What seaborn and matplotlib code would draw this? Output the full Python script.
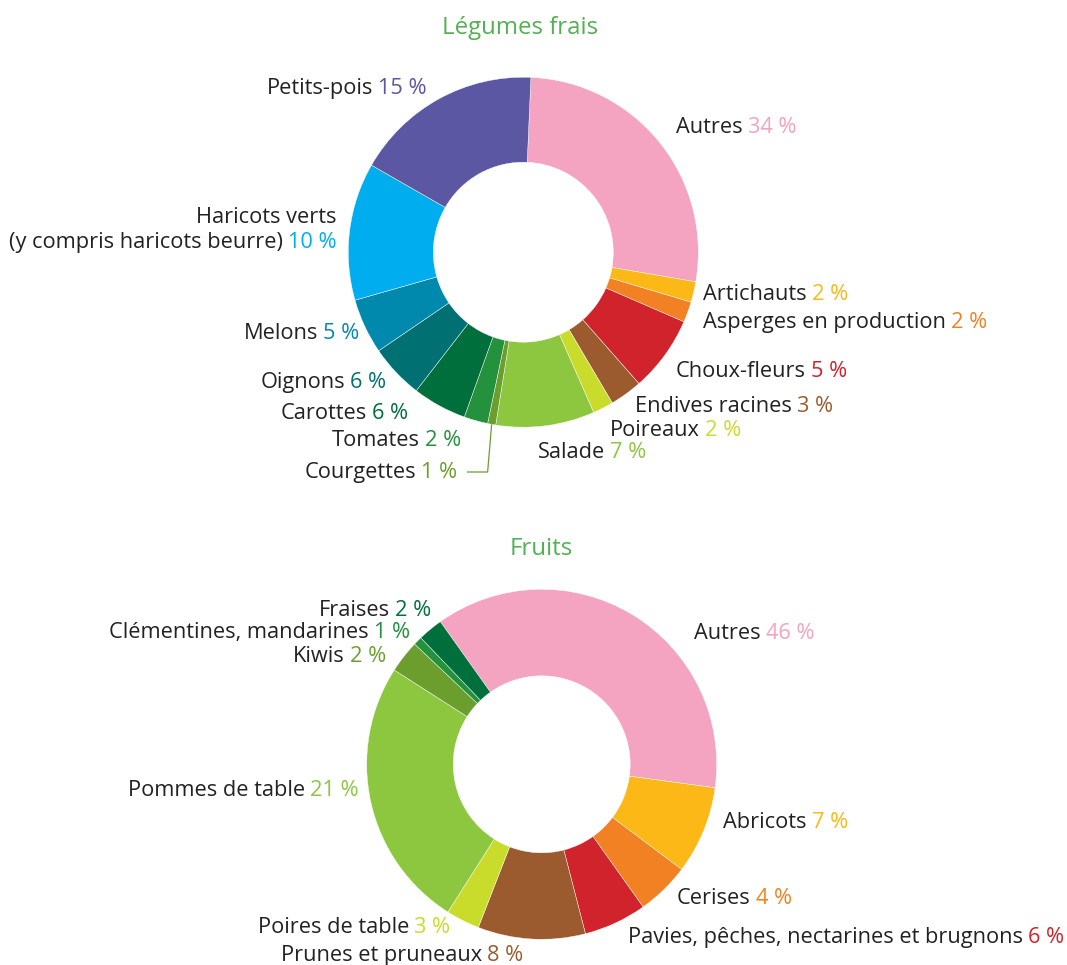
import matplotlib
matplotlib.use("Agg")
import matplotlib.pyplot as plt
import seaborn as sns
import numpy as np

sns.set_theme(style="white")
plt.rcParams['font.family'] = ['Open Sans', 'DejaVu Sans']

W, H = 1067, 965

# ---------------- Data ----------------
veg_names = ["Autres", "Artichauts", "Asperges en production", "Choux-fleurs",
             "Endives racines", "Poireaux", "Salade", "Courgettes", "Tomates",
             "Carottes", "Oignons", "Melons",
             "Haricots verts\n(y compris haricots beurre)", "Petits-pois"]
veg_pct = [34, 2, 2, 5, 3, 2, 7, 1, 2, 6, 6, 5, 10, 15]
veg_share = [27.0, 1.9, 1.9, 7.0, 3.0, 1.9, 9.1, 0.75, 2.2, 5.0, 5.0, 5.1, 12.7, 17.4]

fruit_names = ["Autres", "Abricots", "Cerises",
               "Pavies, pêches, nectarines et brugnons", "Prunes et pruneaux",
               "Poires de table", "Pommes de table", "Kiwis",
               "Clémentines, mandarines", "Fraises"]
fruit_pct = [46, 7, 4, 6, 8, 3, 21, 2, 1, 2]
fruit_share = [36.9, 8.1, 4.9, 5.8, 9.9, 3.1, 25.0, 3.0, 0.8, 2.3]

# ---------------- Styles ----------------
veg_colors = ["#f4a3c0", "#fbb817", "#f28124", "#d1232b", "#9c5b2e", "#c9dc2b",
              "#8dc63f", "#6c9e2e", "#24913c", "#006f3c", "#007073", "#0088ad",
              "#00aeef", "#5b57a2"]
fruit_colors = ["#f4a3c0", "#fbb817", "#f28124", "#d1232b", "#9c5b2e", "#c9dc2b",
                "#8dc63f", "#6c9e2e", "#24913c", "#006f3c"]
veg_pal = sns.color_palette(veg_colors)
fruit_pal = sns.color_palette(fruit_colors)

TEXT = "#222222"
TITLE = "#52b152"
FS = 15.7

# label layout: (x, y_center in px from top, side)
veg_label_pos = [(676, 127, 'l'), (703, 294, 'l'), (703, 322, 'l'), (676, 371, 'l'),
                 (635, 406, 'l'), (610, 430, 'l'), (538, 452, 'l'), (457, 472, 'r'),
                 (461, 440, 'r'), (408, 413, 'r'), (386, 382, 'r'), (359, 333, 'r'),
                 (337, 242, 'r'), (427, 88, 'r')]
fruit_label_pos = [(694, 633, 'l'), (723, 822, 'l'), (677, 898, 'l'), (628, 937, 'l'),
                   (523, 955, 'r'), (450, 927, 'r'), (359, 790, 'r'), (386, 656, 'r'),
                   (410, 632, 'r'), (431, 610, 'r')]

fig = plt.figure(figsize=(W / 100, H / 100), dpi=100)
ax = fig.add_axes([0, 0, 1, 1])


def py(y):
    return H - y


def donut(values, colors, center_px, radius, inner, start_deg):
    wedges, _ = ax.pie(values, colors=colors, center=(center_px[0], py(center_px[1])),
                       radius=radius, startangle=90 - start_deg, counterclock=False,
                       wedgeprops=dict(width=radius - inner, linewidth=0.3,
                                       edgecolor="white"),
                       frame=True)
    return wedges


veg_wedges = donut(veg_share, veg_pal, (523.3, 252.2), 175, 90, 2.5)
fruit_wedges = donut(fruit_share, fruit_pal, (541.7, 764.3), 175, 88.5, 324.6)
ax.set_xlim(0, W)
ax.set_ylim(0, H)
ax.set_aspect('equal')
ax.axis('off')

ax.text(520, py(28), "Légumes frais", ha='center', va='center', color=TITLE, fontsize=17.3)
ax.text(541, py(549), "Fruits", ha='center', va='center', color=TITLE, fontsize=17.3)

fig.canvas.draw()
renderer = fig.canvas.get_renderer()
GAP = 5


def labels(names, pcts, colors, positions):
    for name, p, c, (x, yc, side) in zip(names, pcts, colors, positions):
        lines = name.split("\n")
        yb = py(yc + 6)
        pct = f"{p} %"
        if side == 'l':
            t1 = ax.text(x, yb, lines[-1], ha='left', va='baseline', color=TEXT, fontsize=FS)
            w = t1.get_window_extent(renderer).width
            ax.text(x + w + GAP, yb, pct, ha='left', va='baseline', color=c, fontsize=FS)
        else:
            t2 = ax.text(x, yb, pct, ha='right', va='baseline', color=c, fontsize=FS)
            w = t2.get_window_extent(renderer).width
            ax.text(x - w - GAP, yb, lines[-1], ha='right', va='baseline', color=TEXT, fontsize=FS)
        for k, extra in enumerate(reversed(lines[:-1])):
            ax.text(x, yb + 25 * (k + 1), extra, ha='right' if side == 'r' else 'left',
                    va='baseline', color=TEXT, fontsize=FS)


labels(veg_names, veg_pct, veg_colors, veg_label_pos)
labels(fruit_names, fruit_pct, fruit_colors, fruit_label_pos)

# leader line for Courgettes
wdg = veg_wedges[7]
mid = np.deg2rad((wdg.theta1 + wdg.theta2) / 2)
sx = wdg.center[0] + wdg.r * np.cos(mid)
sy = wdg.center[1] + wdg.r * np.sin(mid)
lx, ly = veg_label_pos[7][0], py(veg_label_pos[7][1])
ax.plot([sx, sx - 4, lx + 10], [sy, ly, ly], color=veg_colors[7], lw=0.9,
        solid_capstyle='butt')

fig.savefig("out.png", dpi=100)
